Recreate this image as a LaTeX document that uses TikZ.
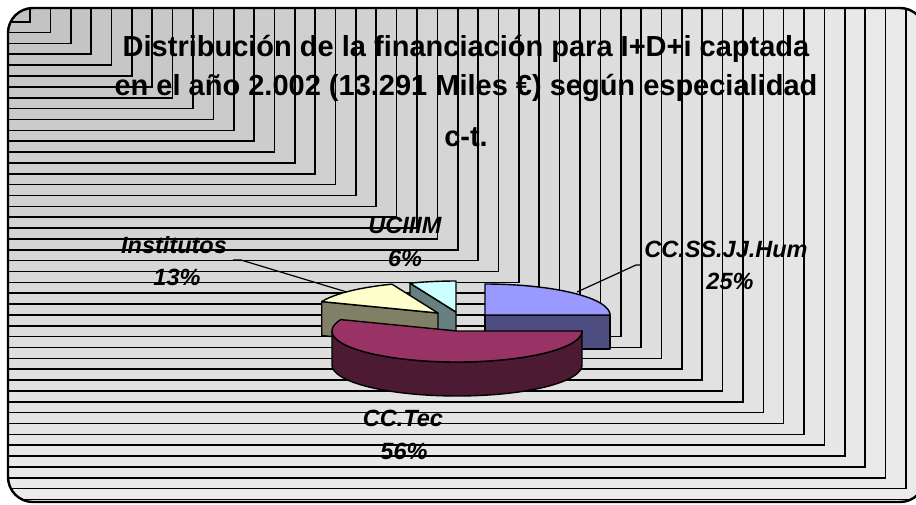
\documentclass[tikz,border=0pt]{standalone}
\usepackage{fontspec}
\usetikzlibrary{calc}
\setmainfont{Liberation Sans}
\definecolor{humtop}{HTML}{9999FF}
\definecolor{humside}{HTML}{4D4D80}
\definecolor{tectop}{HTML}{993366}
\definecolor{tecside}{HTML}{4D1A33}
\definecolor{insttop}{HTML}{FFFFCC}
\definecolor{instside}{HTML}{808066}
\definecolor{ucttop}{HTML}{CCFFFF}
\definecolor{uctside}{HTML}{668080}
\tikzset{
  band/.style={draw=black, line width=1.6pt},
  framebox/.style={draw=black, line width=2.4pt, rounded corners=25pt},
  titletext/.style={font=\bfseries\fontsize{29}{29}\selectfont, anchor=base, inner sep=0pt},
  lbl/.style={font=\bfseries\itshape\fontsize{23.5}{23.5}\selectfont, anchor=base, inner sep=0pt},
  slice/.style={draw=black, line width=1.4pt, line join=round},
  leader/.style={draw=black, line width=1.2pt}
}
\newcommand{\Rx}{125}
\newcommand{\Ry}{31}
\newcommand{\Dp}{34}
\begin{document}
\begin{tikzpicture}[x=1pt,y=-1pt]
\useasboundingbox (0,0) rectangle (916,504);
% background with nested bands
\begin{scope}
  \clip[rounded corners=25pt] (8,8) rectangle (925,502);
  \fill[black!7] (0,0) rectangle (940,520);
  \foreach \k in {45,44,...,1}{
    \pgfmathsetmacro\xk{9.63+20.37*\k}
    \pgfmathsetmacro\yk{10.84+10.86*\k}
    \pgfmathsetmacro\pk{24-16*(\k-1)/44}
    \filldraw[band, fill=black!\pk] (-5,-5) rectangle (\xk,\yk);
  }
\end{scope}
\path[framebox] (8,8) rectangle (925,502);
% title
\node[titletext] (title1) at (466,56.7) {Distribución de la financiación para I+D+i captada};
\node[titletext] (title2) at (466,95) {en el año 2.002 (13.291 Miles €) según especialidad};
\node[titletext] (title3) at (466,146) {c-t.};
% labels
\node[lbl] (inst1) at (174,253) {Institutos};
\node[lbl] (inst2) at (177,285) {13\%};
\node[lbl] (uc1) at (405,233) {UCIIIM};
\node[lbl] (uc2) at (405,266) {6\%};
\node[lbl] (hum1) at (726,257) {CC.SS.JJ.Hum};
\node[lbl] (hum2) at (730,289) {25\%};
\node[lbl] (tec1) at (403,426) {CC.Tec};
\node[lbl] (tec2) at (404,459) {56\%};
% leader lines
\coordinate (instA) at (233,260);
\coordinate (instB) at (241,260);
\coordinate (instC) at (350,293);
\coordinate (humA) at (641,265);
\coordinate (humB) at (636,265);
\coordinate (humC) at (577,292);
\draw[leader] (instA) -- (instB) -- (instC);
\draw[leader] (humA) -- (humB) -- (humC);
% UCIIIM slice (cyan)
\coordinate (cu) at (456,312);
\coordinate (cuP) at ({456+\Rx*cos(111.6)},{312-\Ry*sin(111.6)});
\filldraw[slice, fill=uctside] (cu) -- (cuP) -- ++(0,\Dp) -- ($(cu)+(0,\Dp)$) -- cycle;
\filldraw[slice, fill=ucttop] (cu) -- plot[domain=111.6:90, samples=12] ({456+\Rx*cos(\x)},{312-\Ry*sin(\x)}) -- cycle;
% Institutos slice (yellow)
\coordinate (ci) at (438,313);
\coordinate (ciP) at ({438+\Rx*cos(158.4)},{313-\Ry*sin(158.4)});
\filldraw[slice, fill=instside] (ci) -- (ciP) -- ++(0,\Dp) -- ($(ci)+(0,\Dp)$) -- cycle;
\filldraw[slice, fill=insttop] (ci) -- plot[domain=158.4:111.6, samples=20] ({438+\Rx*cos(\x)},{313-\Ry*sin(\x)}) -- cycle;
% CC.SS.JJ.Hum slice (blue)
\coordinate (ch) at (485,315);
\coordinate (chR) at ({485+\Rx},315);
\filldraw[slice, fill=humside] (ch) rectangle ($(chR)+(0,\Dp)$);
\filldraw[slice, fill=humtop] (ch) -- (chR) -- plot[domain=0:90, samples=30] ({485+\Rx*cos(\x)},{315-\Ry*sin(\x)}) -- cycle;
% CC.Tec slice (maroon)
\coordinate (ct) at (457,331);
\filldraw[slice, fill=tecside] plot[domain=180:360, samples=60] ({457+\Rx*cos(\x)},{331-\Ry*sin(\x)}) -- plot[domain=360:180, samples=60] ({457+\Rx*cos(\x)},{331+\Dp-\Ry*sin(\x)}) -- cycle;
\filldraw[slice, fill=tectop] (ct) -- plot[domain=158.4:360, samples=70] ({457+\Rx*cos(\x)},{331-\Ry*sin(\x)}) -- cycle;
\end{tikzpicture}
\end{document}
